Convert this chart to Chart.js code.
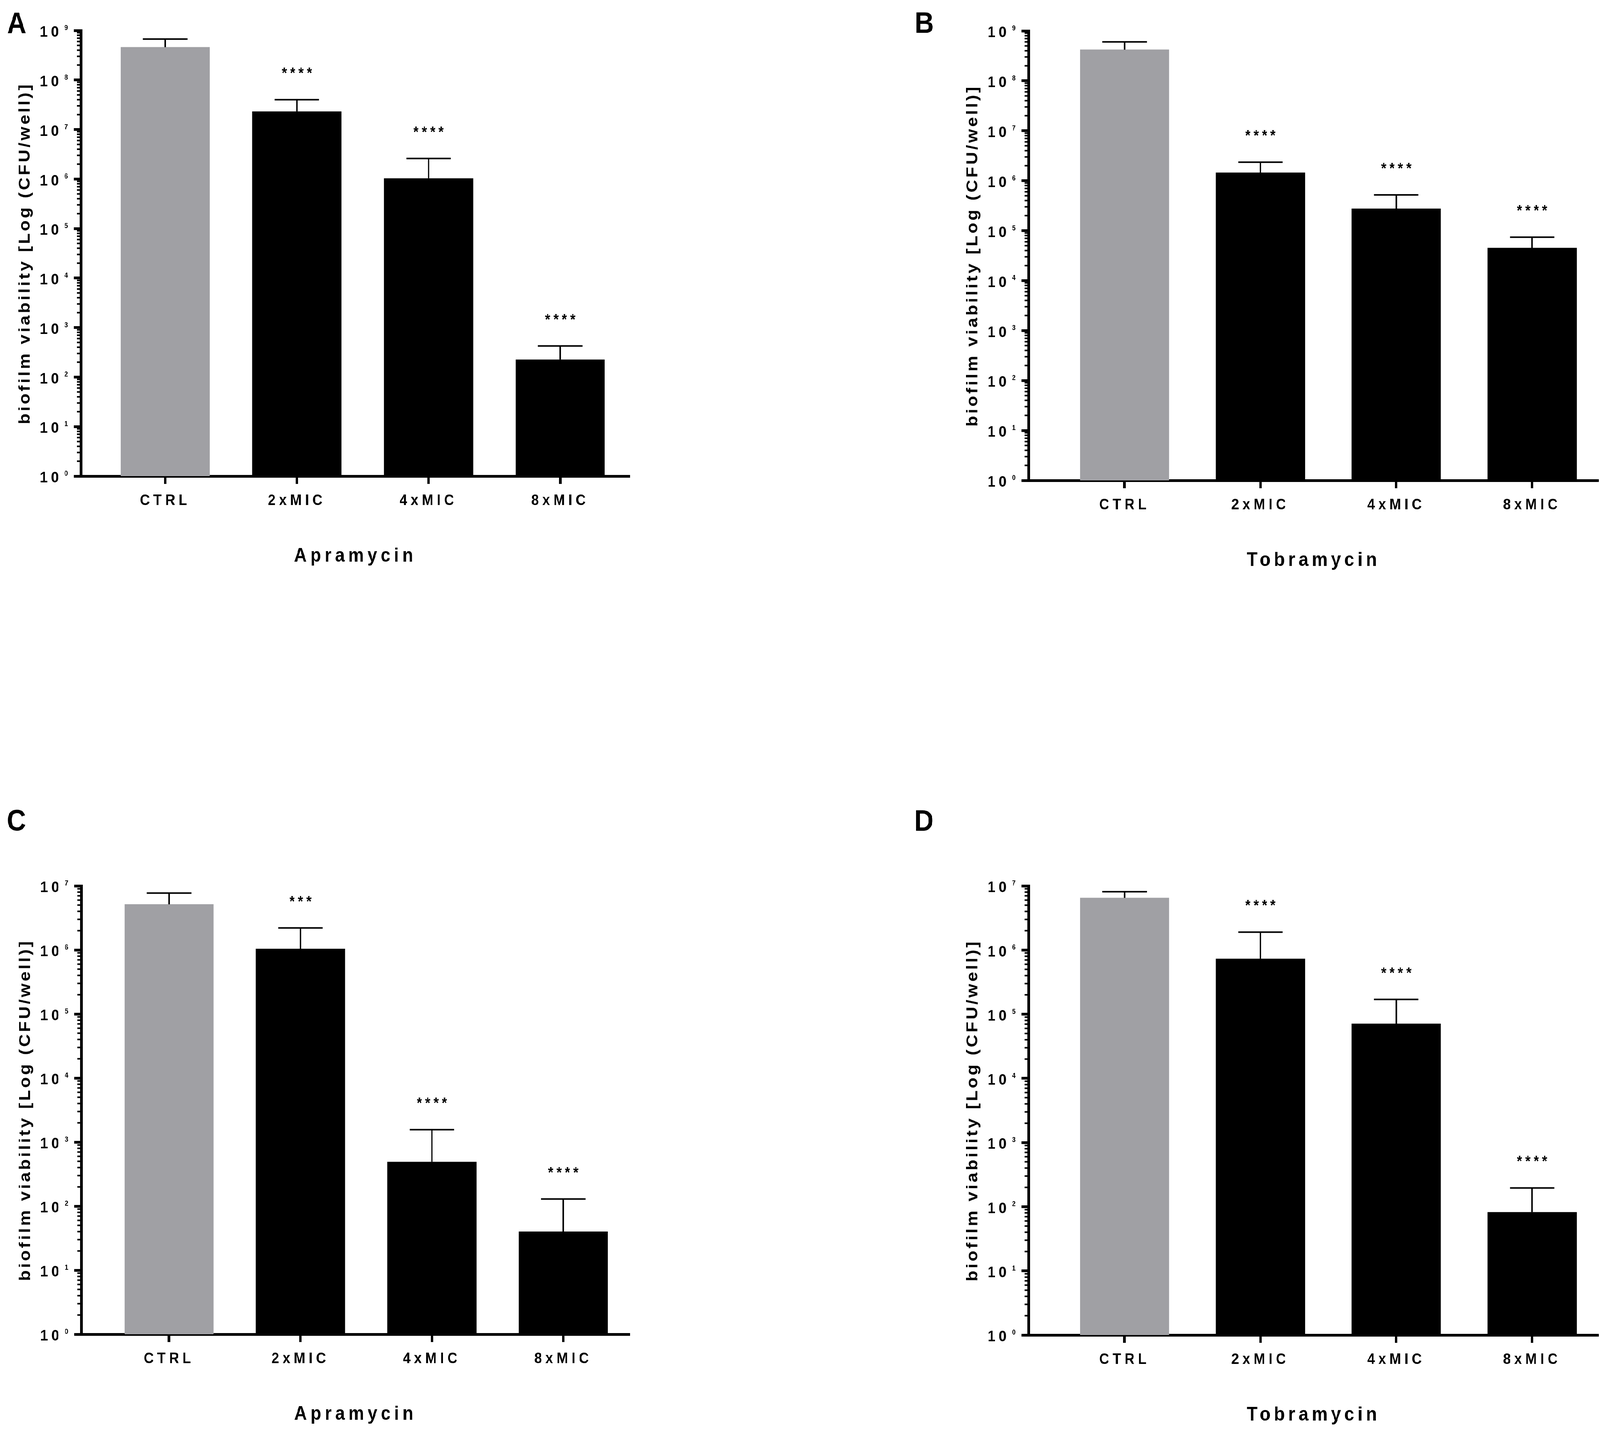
<!DOCTYPE html>
<html>
<head>
<meta charset="utf-8">
<script src="https://cdn.jsdelivr.net/npm/chart.js@4.4.1/dist/chart.umd.min.js"></script>
<style>
  html, body { margin: 0; padding: 0; background: #fff; overflow: hidden; }
  #frame { position: relative; overflow: hidden; background: #fff; }
  #page { position: absolute; left: 0; top: 0; width: 4550px; height: 3697px; background: #fff; transform-origin: 0 0; }
  canvas { position: absolute; }
</style>
</head>
<body>
<div id="frame">
<div id="page">
  <canvas id="chartA" width="1850" height="1848" style="left:0;top:0"></canvas>
  <canvas id="chartB" width="1970" height="1848" style="left:2580px;top:0"></canvas>
  <canvas id="chartC" width="1850" height="1849" style="left:0;top:1848px"></canvas>
  <canvas id="chartD" width="1970" height="1849" style="left:2580px;top:1848px"></canvas>
</div>
</div>
<script>
// ---- data ----
const categories = ["CTRL", "2xMIC", "4xMIC", "8xMIC"];

// A: Apramycin (top row)
const meanA = [4.6e8, 2.3e7, 1.03e6, 225];
const sdA = [2.1e8, 1.7e7, 1.57e6, 200];
const starsA = ["", "****", "****", "****"];

// B: Tobramycin (top row)
const meanB = [4.2e8, 1.45e6, 2.75e5, 4.5e4];
const sdB = [1.8e8, 9.0e5, 2.45e5, 2.9e4];
const starsB = ["", "****", "****", "****"];

// C: Apramycin (bottom row)
const meanC = [5.15e6, 1.04e6, 490, 40];
const sdC = [2.55e6, 1.16e6, 1070, 89];
const starsC = ["", "***", "****", "****"];

// D: Tobramycin (bottom row)
const meanD = [6.5e6, 7.3e5, 7.1e4, 82];
const sdD = [1.6e6, 1.17e6, 9.9e4, 114];
const starsD = ["", "****", "****", "****"];

const yTicksTop = [1, 1e1, 1e2, 1e3, 1e4, 1e5, 1e6, 1e7, 1e8, 1e9];
const yTicksBottom = [1, 1e1, 1e2, 1e3, 1e4, 1e5, 1e6, 1e7];

const yTitle = "biofilm viability [Log (CFU/well)]";

// ---- styles ----
const FONT = "'Liberation Sans', Arial, Helvetica, sans-serif";
const barColors = ["#a0a0a4", "#000000", "#000000", "#000000"];

Chart.defaults.font.family = FONT;
Chart.defaults.color = "#000";

// the figure is laid out on a 4550x3697 sheet; stretch that sheet onto the viewport we get
const frame = document.getElementById("frame");
const page = document.getElementById("page");
let sx = window.innerWidth / 4550;
let sy = window.innerHeight / 3697;
if (!(sx > 0)) sx = 1;
if (!(sy > 0)) sy = 1;
frame.style.width = 4550 * sx + "px";
frame.style.height = 3697 * sy + "px";
page.style.transform = "scale(" + sx + "," + sy + ")";
const pixelRatio = (window.devicePixelRatio || 1) * Math.max(sx, sy);

// error bars, stars, minor log ticks, exponents, y title, panel letter
const panelDecor = {
  id: "panelDecor",
  beforeDraw(chart) {
    chart.ctx.letterSpacing = "10px";
  },
  afterDatasetsDraw(chart) {
    const ctx = chart.ctx;
    const ys = chart.scales.y;
    const ds = chart.data.datasets[0];
    const bars = chart.getDatasetMeta(0).data;
    ctx.save();
    ctx.strokeStyle = "#000";
    ctx.fillStyle = "#000";
    ctx.lineWidth = 4;
    ctx.font = "bold 38px " + FONT;
    ctx.letterSpacing = "9px";
    ctx.textAlign = "left";
    ctx.textBaseline = "alphabetic";
    bars.forEach((bar, i) => {
      const top = ys.getPixelForValue(ds.data[i].y + ds.sd[i]);
      ctx.beginPath();
      ctx.moveTo(bar.x, bar.y);
      ctx.lineTo(bar.x, top);
      ctx.moveTo(bar.x - bar.width / 4, top);
      ctx.lineTo(bar.x + bar.width / 4, top);
      ctx.stroke();
      const s = ds.stars[i];
      if (s) {
        const w = ctx.measureText(s).width;
        ctx.fillText(s, bar.x - (w - 9) / 2, top - 55);
      }
    });
    ctx.restore();
  },
  afterDraw(chart, args, opts) {
    const ctx = chart.ctx;
    const ys = chart.scales.y;
    const area = chart.chartArea;
    const axisX = ys.right;
    const ticks = ys.ticks.map((t) => t.value);
    ctx.save();
    ctx.fillStyle = "#000";
    ctx.strokeStyle = "#000";

    // minor ticks 2..9 in each decade
    ctx.lineWidth = 4;
    ctx.beginPath();
    for (let j = 0; j < ticks.length - 1; j++) {
      for (let k = 2; k <= 9; k++) {
        const py = ys.getPixelForValue(ticks[j] * k);
        ctx.moveTo(axisX - 11, py);
        ctx.lineTo(axisX, py);
      }
    }
    ctx.stroke();

    // exponents of the 10^n labels
    ctx.letterSpacing = "0px";
    ctx.font = "bold 18px " + FONT;
    ctx.textAlign = "left";
    ctx.textBaseline = "alphabetic";
    ticks.forEach((v) => {
      ctx.fillText(String(Math.round(Math.log10(v))), axisX - 47, ys.getPixelForValue(v) - 1);
    });

    // y axis title
    ctx.save();
    ctx.letterSpacing = "5.6px";
    ctx.font = "bold 45px " + FONT;
    ctx.textAlign = "center";
    ctx.translate(axisX - 146, (area.top + area.bottom) / 2);
    ctx.rotate(-Math.PI / 2);
    ctx.fillText(opts.yTitle, 0, 0);
    ctx.restore();

    // panel letter
    ctx.font = "bold 76px " + FONT;
    ctx.textAlign = "left";
    ctx.fillText(opts.letter, opts.letterX, opts.letterY);
    ctx.restore();
  },
};

function drawPanel(id, p) {
  const tickFont = { size: 39, weight: "bold", lineHeight: 1 };
  return new Chart(document.getElementById(id), {
    type: "bar",
    data: {
      datasets: [
        {
          data: p.mean.map((v, i) => ({ x: i, y: v })),
          sd: p.sd,
          stars: p.stars,
          backgroundColor: barColors,
          borderWidth: 0,
          barThickness: 253,
        },
      ],
    },
    options: {
      responsive: false,
      animation: false,
      devicePixelRatio: pixelRatio,
      events: [],
      layout: { padding: p.pad },
      plugins: {
        legend: { display: false },
        tooltip: { enabled: false },
        panelDecor: { yTitle: yTitle, letter: p.letter, letterX: p.letterX, letterY: p.letterY },
      },
      scales: {
        x: {
          type: "linear",
          bounds: "data",
          offset: false,
          min: p.xMin,
          max: p.xMax,
          afterBuildTicks: (s) => {
            s.ticks = categories.map((c, i) => ({ value: i }));
          },
          afterFit: (s) => {
            s.height = 240;
          },
          ticks: {
            autoSkip: false,
            maxRotation: 0,
            padding: 24,
            color: "#000",
            font: tickFont,
            callback: (v) => categories[v],
          },
          grid: {
            offset: false,
            drawOnChartArea: false,
            drawTicks: true,
            tickLength: 20,
            tickWidth: 7,
            tickColor: "#000",
          },
          border: { display: true, width: 7, color: "#000" },
          title: {
            display: true,
            text: p.drug,
            color: "#000",
            font: { size: 50, weight: "bold", lineHeight: 1 },
            padding: { top: 0, bottom: 10 },
          },
        },
        y: {
          type: "logarithmic",
          bounds: "data",
          min: p.yTicks[0],
          max: p.yTicks[p.yTicks.length - 1],
          afterBuildTicks: (s) => {
            s.ticks = p.yTicks.map((v) => ({ value: v }));
          },
          afterFit: (s) => {
            s.width = 200;
          },
          ticks: {
            autoSkip: false,
            padding: 33,
            labelOffset: 5.5,
            color: "#000",
            font: tickFont,
            callback: () => "10",
          },
          grid: {
            drawOnChartArea: false,
            drawTicks: true,
            tickLength: 20,
            tickWidth: 7,
            tickColor: "#000",
          },
          border: { display: true, width: 7, color: "#000" },
        },
      },
    },
    plugins: [panelDecor],
  });
}

drawPanel("chartA", {
  letter: "A", drug: "Apramycin", mean: meanA, sd: sdA, stars: starsA, yTicks: yTicksTop,
  pad: { left: 30, right: 59, top: 78, bottom: 389 },
  xMin: -0.6408, xMax: 3.5286, letterX: 20, letterY: 85,
});
drawPanel("chartB", {
  letter: "B", drug: "Tobramycin", mean: meanB, sd: sdB, stars: starsB, yTicks: yTicksTop,
  pad: { left: 145, right: 4, top: 79, bottom: 378 },
  xMin: -0.7067, xMax: 3.4895, letterX: 21, letterY: 84,
});
drawPanel("chartC", {
  letter: "C", drug: "Apramycin", mean: meanC, sd: sdC, stars: starsC, yTicks: yTicksBottom,
  pad: { left: 31, right: 59, top: 420, bottom: 41 },
  xMin: -0.6688, xMax: 3.5062, letterX: 19, letterY: 278,
});
drawPanel("chartD", {
  letter: "D", drug: "Tobramycin", mean: meanD, sd: sdD, stars: starsD, yTicks: yTicksBottom,
  pad: { left: 145, right: 4, top: 420, bottom: 39 },
  xMin: -0.7067, xMax: 3.4895, letterX: 20, letterY: 279,
});
</script>
</body>
</html>
